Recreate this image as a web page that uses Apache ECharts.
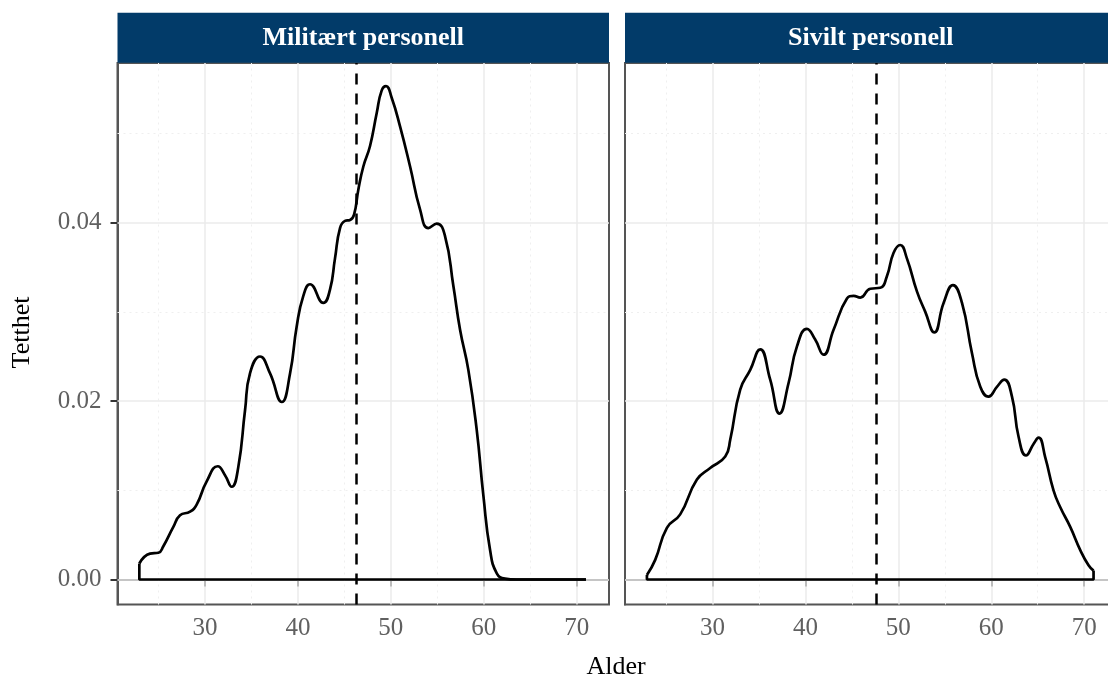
<!DOCTYPE html>
<html><head><meta charset="utf-8">
<script src="https://cdn.jsdelivr.net/npm/echarts@6/dist/echarts.min.js"></script>
<style>html,body{margin:0;padding:0;background:#fff}#c{width:1108px;height:684px}</style>
</head><body><div id="c"></div>
<script>
const panelTitles = ['Militært personell', 'Sivilt personell'];
const xTitle = 'Alder';
const yTitle = 'Tetthet';

const milAge = [22.93,24.08,24.98,25.5,26.59,27.31,28.39,29.1,30.18,31.37,32.15,32.87,33.58,34.31,34.84,35.92,37.0,38.26,39.15,39.87,40.58,41.3,42.73,43.45,43.99,44.53,45.07,45.61,46.04,46.5,47.04,47.76,48.48,49.01,49.48,50.09,50.99,52.07,53.14,54.04,54.94,55.83,56.73,57.45,58.34,59.24,59.96,60.68,61.4,62.29,63.5,71.0];
const milDensity = [0.0018,0.0029,0.0030,0.0037,0.0059,0.0072,0.0076,0.0084,0.0110,0.0127,0.0117,0.0104,0.0126,0.0190,0.0231,0.0250,0.0231,0.0199,0.0231,0.0284,0.0318,0.0331,0.0310,0.0325,0.0360,0.0394,0.0402,0.0403,0.0409,0.0437,0.0463,0.0486,0.0523,0.0548,0.0553,0.0540,0.0508,0.0463,0.0415,0.0394,0.0399,0.0385,0.0329,0.0280,0.0235,0.0168,0.0094,0.0033,0.0007,0.0001,0.0,0.0];

const sivAge = [22.94,23.83,25.09,26.52,28.32,29.75,31.37,31.91,32.98,34.06,35.13,36.21,37.21,38.18,39.08,40.16,41.05,41.95,43.03,44.47,45.18,45.9,46.98,48.05,48.77,49.48,50.2,50.92,52.0,52.9,53.87,54.87,55.88,56.85,57.92,58.82,59.71,60.61,61.4,62.23,62.94,63.74,64.55,65.09,65.81,66.7,67.43,68.5,69.58,70.47,71.01];
const sivDensity = [0.0005,0.0022,0.0058,0.0073,0.0112,0.0125,0.0138,0.0157,0.0213,0.0235,0.0258,0.0224,0.0186,0.0220,0.0261,0.0281,0.0269,0.0252,0.0280,0.0315,0.0318,0.0316,0.0326,0.0327,0.0340,0.0366,0.0375,0.0360,0.0323,0.0300,0.0277,0.0310,0.0330,0.0310,0.0254,0.0216,0.0205,0.0216,0.0224,0.0205,0.0160,0.0139,0.0152,0.0159,0.0137,0.0100,0.0081,0.0059,0.0033,0.0016,0.0010];

const medians = [46.24, 47.62];

const xTicks = [30, 40, 50, 60, 70];
const xMinor = [25, 35, 45, 55, 65];
const yTicks = [0, 0.02, 0.04];
const yMinor = [0.01, 0.03, 0.05];

const FONT = 'Liberation Serif';
const X_MIN = 20.58, X_MAX = 73.48, Y_MIN = -0.0028, Y_MAX = 0.0579;
const grids = [
  {left: 117.5, width: 491.5, top: 63, height: 541.5},
  {left: 625, width: 491.5, top: 63, height: 541.5}
];
const panels = [[milAge, milDensity], [sivAge, sivDensity]];

const xAxes = [], yAxes = [], series = [], graphic = [];
panels.forEach(([ages, dens], i) => {
  xAxes.push({
    type: 'value', gridIndex: i, min: X_MIN, max: X_MAX,
    splitLine: {show: false},
    axisLine: {show: true, lineStyle: {color: '#555', width: 2}},
    axisTick: {show: true, customValues: xTicks, length: 7, lineStyle: {color: '#333', width: 2}},
    axisLabel: {customValues: xTicks, fontFamily: FONT, fontSize: 25, color: '#606060', margin: 11}
  });
  yAxes.push({
    type: 'value', gridIndex: i, min: Y_MIN, max: Y_MAX,
    splitLine: {show: false},
    axisLine: {show: true, lineStyle: {color: '#555', width: 2}},
    axisTick: {show: i === 0, customValues: yTicks, length: 7, lineStyle: {color: '#333', width: 2}},
    axisLabel: {show: i === 0, customValues: yTicks, fontFamily: FONT, fontSize: 25, color: '#606060', margin: 16,
      formatter: v => v.toFixed(2)}
  });
  const gl = [];
  xMinor.forEach(v => gl.push({xAxis: v, lineStyle: {color: '#efefef', width: 1, type: [2, 4]}}));
  yMinor.forEach(v => gl.push({yAxis: v, lineStyle: {color: '#efefef', width: 1, type: [2, 4]}}));
  xTicks.forEach(v => gl.push({xAxis: v, lineStyle: {color: '#ebebeb', width: 1.5, type: 'solid'}}));
  yTicks.forEach(v => gl.push({yAxis: v, lineStyle: {color: '#ebebeb', width: 1.5, type: 'solid'}}));
  const n = ages.length;
  series.push({
    type: 'line', xAxisIndex: i, yAxisIndex: i, z: 3,
    data: [[ages[0], dens[0]], [ages[0], 0], [ages[n - 1], 0], [ages[n - 1], dens[n - 1]]],
    showSymbol: false, symbol: 'none', silent: true,
    lineStyle: {color: '#000', width: 2.7},
    markLine: {silent: true, symbol: 'none', z: 1, label: {show: false}, animation: false, data: gl}
  });
  series.push({
    type: 'line', xAxisIndex: i, yAxisIndex: i, z: 3,
    data: ages.map((a, k) => [a, dens[k]]),
    smooth: 0.5, showSymbol: false, symbol: 'none', silent: true,
    lineStyle: {color: '#000', width: 2.7},
    markLine: {silent: true, symbol: 'none', z: 6, label: {show: false}, animation: false,
      data: [{xAxis: medians[i], lineStyle: {color: '#000', width: 2.5, type: [11, 9]}}]}
  });
  const g = grids[i];
  graphic.push({type: 'rect', shape: {x: g.left, y: 12.7, width: g.width, height: 50}, style: {fill: '#023b69'}, z: 10});
  graphic.push({type: 'text', x: g.left + g.width / 2, y: 38, z: 11,
    style: {text: panelTitles[i], fill: '#fff', font: 'bold 26px "Liberation Serif"', align: 'center', verticalAlign: 'middle'}});
});
graphic.push({type: 'text', x: 616, y: 667, style: {text: xTitle, fill: '#000', font: '26px "Liberation Serif"', align: 'center', verticalAlign: 'middle'}});
graphic.push({type: 'text', x: 22, y: 332.5, rotation: Math.PI / 2,
  style: {text: yTitle, fill: '#000', font: '26px "Liberation Serif"', align: 'center', verticalAlign: 'middle'}});

const chart = echarts.init(document.getElementById('c'), null, {renderer: 'canvas'});
chart.setOption({
  animation: false,
  backgroundColor: '#fff',
  grid: grids.map(g => Object.assign({show: true, borderColor: '#555', borderWidth: 2, backgroundColor: 'transparent',
    containLabel: false, outerBoundsMode: 'none'}, g)),
  xAxis: xAxes, yAxis: yAxes, series, graphic
});
</script></body></html>
